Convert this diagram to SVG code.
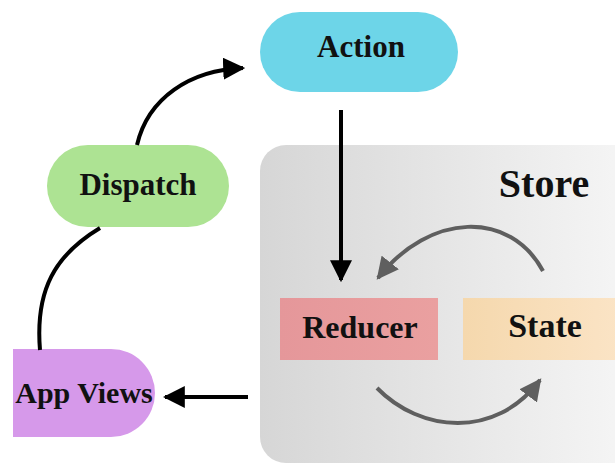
<svg xmlns="http://www.w3.org/2000/svg" width="615" height="464" viewBox="0 0 615 464">
<defs>
<linearGradient id="storeG" x1="0" y1="0" x2="1" y2="0">
<stop offset="0" stop-color="#d6d6d6"/>
<stop offset="1" stop-color="#f8f8f8"/>
</linearGradient>
<linearGradient id="redG" x1="0" y1="0" x2="1" y2="0">
<stop offset="0" stop-color="#e5979a"/>
<stop offset="1" stop-color="#eaa0a0"/>
</linearGradient>
<linearGradient id="stateG" x1="0" y1="0" x2="1" y2="0">
<stop offset="0" stop-color="#f5d8ad"/>
<stop offset="1" stop-color="#fbe4c6"/>
</linearGradient>
<clipPath id="clipApp"><rect x="13" y="0" width="602" height="464"/></clipPath>
<marker id="ahB" viewBox="0 0 10 10" refX="9" refY="5" markerWidth="5.5" markerHeight="5.5" markerUnits="strokeWidth" orient="auto">
<path d="M0,0 L10,5 L0,10 Z" fill="#000"/>
</marker>
<marker id="ahG" viewBox="0 0 10 10" refX="9" refY="5" markerWidth="5.5" markerHeight="5.5" markerUnits="strokeWidth" orient="auto">
<path d="M0,0 L10,5 L0,10 Z" fill="#5f5f5f"/>
</marker>
</defs>
<style>
.lbl{font-family:"Liberation Serif","Times New Roman",serif;font-weight:bold;fill:#111;text-anchor:middle}
.blk{fill:none;stroke:#000;stroke-width:4}
.gry{fill:none;stroke:#5f5f5f;stroke-width:4}
</style>
<rect width="615" height="464" fill="#fff"/>
<g id="store">
<rect x="260" y="145" width="400" height="318" rx="26" fill="url(#storeG)"/>
<text class="lbl" x="544" y="197" font-size="40">Store</text>
</g>
<g id="action">
<rect x="260" y="12" width="198" height="80" rx="40" fill="#6dd5e8"/>
<text class="lbl" x="361" y="57" font-size="31">Action</text>
</g>
<g id="dispatch">
<rect x="47" y="145" width="182" height="82" rx="41" fill="#ade393"/>
<text class="lbl" x="138" y="195" font-size="31">Dispatch</text>
</g>
<g id="appviews">
<rect x="-30" y="349" width="185" height="88" rx="44" fill="#d699ea" clip-path="url(#clipApp)"/>
<text class="lbl" x="84" y="403" font-size="30">App Views</text>
</g>
<g id="reducer">
<rect x="280" y="298" width="158" height="62" fill="url(#redG)"/>
<text class="lbl" x="360" y="338" font-size="32">Reducer</text>
</g>
<g id="state">
<rect x="463" y="298" width="160" height="62" fill="url(#stateG)"/>
<text class="lbl" x="545" y="337" font-size="34">State</text>
</g>
<g id="connectors">
<path class="blk" d="M137,145 C148,98 190,70 243,68" marker-end="url(#ahB)"/>
<path class="blk" d="M100,228 C55,255 35,290 40,350"/>
<path class="blk" d="M341,110 L341,280" marker-end="url(#ahB)"/>
<path class="blk" d="M248,397 L165,397" marker-end="url(#ahB)"/>
<path class="gry" d="M543,271 C510,210 430,212 378,278" marker-end="url(#ahG)"/>
<path class="gry" d="M377,388 C420,432 495,440 540,380" marker-end="url(#ahG)"/>
</g>
</svg>
